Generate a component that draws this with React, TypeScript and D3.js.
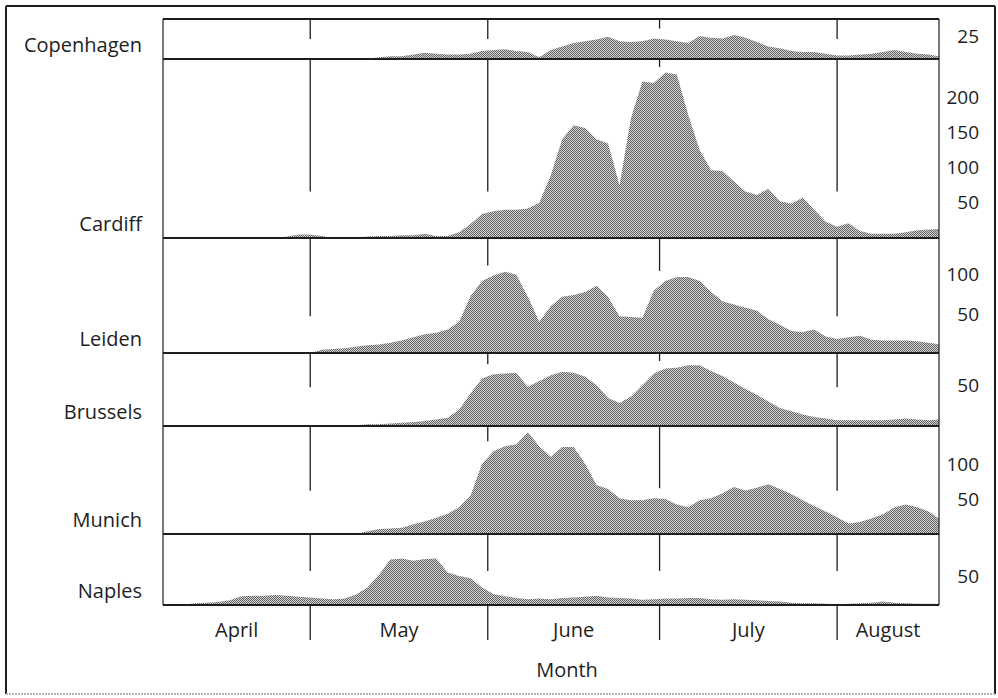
import React from 'react';
import * as d3 from 'd3';

// pollen counts, sampled every second day from 5 April to 19 August
const cities = ['Copenhagen', 'Cardiff', 'Leiden', 'Brussels', 'Munich', 'Naples'];
const monthNames = ['April', 'May', 'June', 'July', 'August'];
const yMax = [45, 254, 147, 89, 154, 122];
const yTicks = [[25], [50, 100, 150, 200], [50, 100], [50], [50, 100], [50]];

const copenhagen = [
  0, 0, 0, 0, 0, 0, 0, 0, 0, 0,
  0, 0, 0, 0, 0, 1, 1, 0, 0, 2,
  3, 3, 5, 7, 6, 5, 5, 6, 9, 10,
  11, 9, 8, 2, 10, 14, 18, 20, 22, 25,
  20, 19, 20, 23, 22, 20, 18, 26, 24, 23,
  27, 24, 19, 14, 12, 9, 8, 8, 6, 4,
  4, 5, 6, 8, 10, 8, 6, 5, 3
];
const cardiff = [
  0, 0, 0, 0, 0, 0, 0, 0, 0, 0,
  0, 2, 5, 5, 3, 0, 0, 1, 2, 3,
  3, 4, 4, 6, 3, 3, 8, 20, 34, 38,
  40, 40, 42, 50, 89, 140, 160, 156, 140, 134,
  75, 170, 222, 220, 235, 232, 175, 125, 96, 95,
  80, 66, 61, 70, 52, 49, 57, 40, 23, 16,
  21, 10, 6, 6, 6, 8, 11, 12, 13
];
const leiden = [
  0, 0, 0, 0, 0, 0, 0, 0, 0, 0,
  0, 0, 0, 0, 4, 5, 6, 8, 10, 11,
  13, 16, 20, 24, 26, 30, 40, 73, 92, 99,
  104, 100, 72, 40, 60, 72, 74, 78, 86, 72,
  47, 46, 45, 80, 92, 97, 97, 92, 78, 66,
  62, 58, 54, 43, 36, 28, 27, 30, 21, 18,
  20, 22, 17, 16, 16, 16, 15, 13, 11
];
const brussels = [
  0, 0, 0, 0, 0, 0, 0, 0, 0, 0,
  0, 0, 0, 0, 0, 0, 0, 1, 2, 2,
  3, 4, 5, 6, 8, 10, 20, 40, 58, 63,
  64, 65, 48, 55, 62, 66, 65, 60, 50, 34,
  28, 36, 50, 64, 70, 71, 74, 74, 67, 61,
  53, 45, 38, 30, 22, 18, 14, 11, 9, 7,
  7, 7, 7, 7, 8, 9, 8, 7, 8
];
const munich = [
  0, 0, 0, 0, 0, 0, 0, 0, 0, 0,
  0, 0, 0, 0, 0, 0, 0, 0, 4, 7,
  8, 9, 14, 18, 23, 29, 38, 55, 100, 118,
  125, 128, 145, 125, 110, 124, 124, 100, 70, 64,
  51, 48, 48, 51, 50, 42, 38, 48, 51, 58,
  67, 62, 66, 71, 64, 57, 48, 40, 32, 24,
  15, 17, 22, 28, 38, 42, 38, 32, 21
];
const naples = [
  0, 0, 1, 3, 4, 5, 8, 15, 16, 16,
  17, 16, 14, 13, 11, 10, 11, 18, 30, 52,
  78, 80, 76, 79, 80, 56, 50, 46, 30, 19,
  15, 12, 10, 11, 10, 12, 13, 14, 16, 13,
  12, 11, 9, 10, 11, 11, 12, 12, 10, 9,
  10, 9, 8, 7, 6, 4, 3, 3, 2, 1,
  2, 3, 4, 6, 4, 3, 2, 2, 2
];
const series = [copenhagen, cardiff, leiden, brussels, munich, naples];

const DAY = 864e5;
const firstSample = Date.UTC(2001, 3, 5);
const sampleDates = copenhagen.map((_, j) => new Date(firstSample + j * 2 * DAY));
const monthStarts = [3, 4, 5, 6, 7].map((m) => new Date(Date.UTC(2001, m, 1)));

// layout
const W = 998;
const H = 698;
const plotLeft = 163;
const plotRight = 939;
const plotTop = 19;
const panelHeights = [40, 179, 115, 73, 108, 71];
const ruleFrac = [0.5, 0.74, 0.68, 0.47, 0.6, 0.52];
const font = "'Open Sans', 'Noto Sans', sans-serif";
const ink = '#1e1e1e';

export default function App() {
  const d0 = new Date(Date.UTC(2001, 3, 5, 7));
  const d1 = new Date(Date.UTC(2001, 7, 18, 19));
  const x = d3.scaleUtc().domain([d0, d1]).range([plotLeft, plotRight]);

  const tops: number[] = [];
  let acc = plotTop;
  panelHeights.forEach((h) => {
    tops.push(acc);
    acc += h;
  });
  const plotBottom = acc;

  const boundaries = monthStarts.filter((m) => +m > +d0 && +m < +d1);
  const monthMid = monthStarts.map((m, i) => {
    const end = new Date(Date.UTC(2001, m.getUTCMonth() + 1, 1));
    const a = +m < +d0 ? d0 : m;
    const b = +end > +d1 ? d1 : end;
    return { name: monthNames[i], x: (x(a) + x(b)) / 2 };
  });

  const panels = cities.map((city, i) => {
    const top = tops[i];
    const h = panelHeights[i];
    const bottom = top + h;
    const y = d3.scaleLinear().domain([0, yMax[i]]).range([bottom, top]);
    const values = series[i];
    const pts = sampleDates.map((d, j) => ({ d, v: values[j] }));
    const area = d3
      .area<{ d: Date; v: number }>()
      .x((p) => x(p.d))
      .y0(bottom)
      .y1((p) => y(p.v));
    const rules = boundaries.map((b) => {
      let mv = 0;
      for (const p of pts) {
        if (Math.abs(p.d.getTime() - b.getTime()) <= 2.5 * DAY && p.v > mv) mv = p.v;
      }
      const cap = top + ruleFrac[i] * h;
      const clear = y(mv) - 10;
      let end = cap < clear ? cap : clear;
      if (!(end > top + 8)) end = top + 8;
      return { x: x(b), end };
    });
    return { city, top, bottom, y, path: area(pts) ?? '', rules, ticks: yTicks[i] };
  });

  return (
    <div style={{ position: 'absolute', left: 0, top: 0, width: W, height: H }}>
      <svg width={W} height={H} viewBox={`0 0 ${W} ${H}`} style={{ display: 'block' }} fontFamily={font}>
        <defs>
          <pattern id="halftone" width="2" height="2" patternUnits="userSpaceOnUse">
            <rect width="2" height="2" fill="#d6d6d6" />
            <rect width="1" height="1" fill="#606060" />
            <rect x="1" y="1" width="1" height="1" fill="#606060" />
          </pattern>
          <clipPath id="plotClip">
            <rect x={plotLeft} y={plotTop} width={plotRight - plotLeft} height={plotBottom - plotTop} />
          </clipPath>
        </defs>

        <rect x={0} y={0} width={W} height={H} fill="#fff" />
        <line x1={6} x2={6} y1={6} y2={694} stroke={ink} strokeWidth={2} />
        <line x1={6} x2={995} y1={6} y2={6} stroke={ink} strokeWidth={2} />
        <line x1={995} x2={995} y1={6} y2={694} stroke={ink} strokeWidth={2} />
        <line x1={6} x2={995} y1={694} y2={694} stroke="#b5b5b5" strokeWidth={2} strokeDasharray="2 1" />

        {panels.map((p) => (
          <g key={p.city}>
            {p.rules.map((r, k) => (
              <line key={k} x1={r.x} x2={r.x} y1={p.top} y2={r.end} stroke={ink} strokeWidth={1.3} />
            ))}
            <path d={p.path} fill="url(#halftone)" clipPath="url(#plotClip)" />
            <line x1={plotLeft} x2={plotRight} y1={p.bottom} y2={p.bottom} stroke={ink} strokeWidth={2} />
            <text x={142} y={p.bottom - 7} textAnchor="end" fontSize={20} fill={ink}>
              {p.city}
            </text>
            {p.ticks.map((t) => (
              <text key={t} x={979} y={p.y(t)} dy="0.35em" textAnchor="end" fontSize={19} fill={ink}>
                {t}
              </text>
            ))}
          </g>
        ))}

        <line x1={plotLeft} x2={plotRight} y1={plotTop} y2={plotTop} stroke={ink} strokeWidth={2} />
        <line x1={plotLeft} x2={plotLeft} y1={plotTop} y2={plotBottom} stroke={ink} strokeWidth={1.2} />
        <line x1={plotRight} x2={plotRight} y1={plotTop} y2={plotBottom} stroke={ink} strokeWidth={1.2} />

        {boundaries.map((b, k) => (
          <line key={k} x1={x(b)} x2={x(b)} y1={plotBottom} y2={plotBottom + 35} stroke={ink} strokeWidth={1.3} />
        ))}
        {monthMid.map((m) => (
          <text key={m.name} x={m.x} y={637} textAnchor="middle" fontSize={20} fill={ink}>
            {m.name}
          </text>
        ))}
        <text x={567} y={677} textAnchor="middle" fontSize={20} fill={ink}>
          Month
        </text>
      </svg>
    </div>
  );
}
